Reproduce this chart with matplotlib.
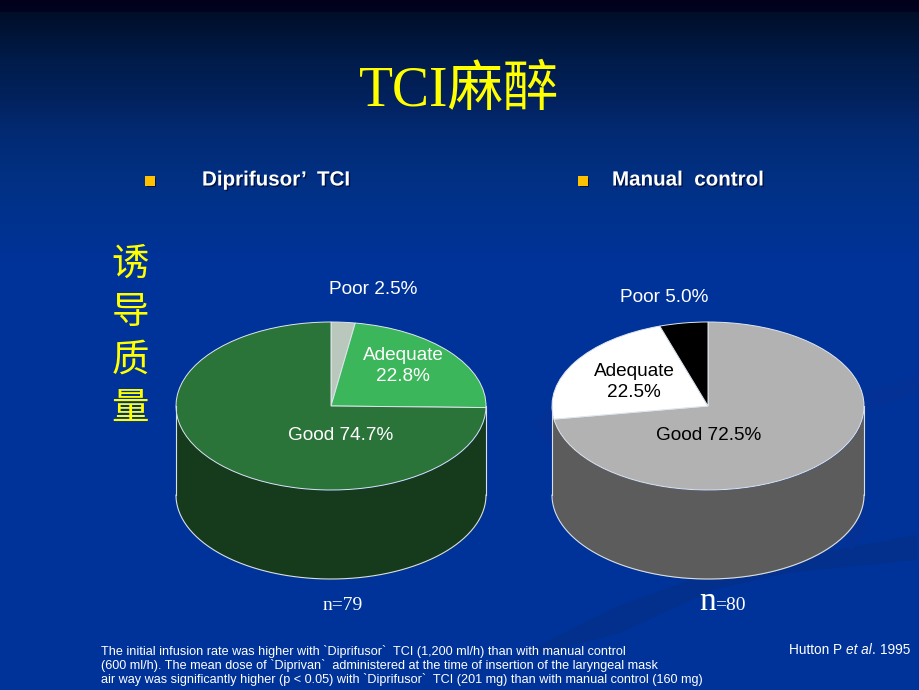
import matplotlib
matplotlib.use('Agg')
import matplotlib.pyplot as plt
import matplotlib.patheffects as pe
import numpy as np

# 数据
labels_left = ['Poor', 'Adequate', 'Good']
values_left = [2.5, 22.8, 74.7]
colors_left = ['#b9c7bc', '#3cb65a', '#2a7339']
side_left = '#153a1c'

labels_right = ['Good', 'Adequate', 'Poor']
values_right = [72.5, 22.5, 5.0]
colors_right = ['#b2b2b2', '#ffffff', '#000000']
side_right = '#5c5c5c'

W, H = 920, 690
fig = plt.figure(figsize=(W / 100, H / 100), dpi=100)

# 背景
bg = fig.add_axes([0, 0, 1, 1])
bg.set_xlim(0, W)
bg.set_ylim(H, 0)
bg.axis('off')
stops_y = [0, 11, 12, 60, 100, 130, 190, 260, 690]
stops_r = [1, 1, 0, 1, 2, 2, 1, 0, 0]
stops_g = [1, 3, 14, 28, 34, 42, 49, 51, 51]
stops_b = [28, 32, 40, 74, 95, 114, 135, 153, 153]
yy = np.arange(H)
grad = np.stack([np.interp(yy, stops_y, stops_r),
                 np.interp(yy, stops_y, stops_g),
                 np.interp(yy, stops_y, stops_b)], axis=1)[:, None, :] / 255
bg.imshow(grad, extent=(0, W, H, 0), aspect='auto', zorder=0)

# 装饰带
bg.fill([500, 620, 713, 787, 917, 917, 787, 713, 620],
        [665, 605, 572, 558, 535, 560, 573, 590, 633],
        color='#03308c', lw=0, zorder=1)
bg.fill([532, 553, 864, 920, 920, 864, 553],
        [423, 403, 392, 375, 392, 412, 450],
        color='#033195', lw=0, zorder=1)
bg.fill([840, 866, 868, 850], [520, 505, 530, 552], color='#033195', lw=0, zorder=1)


def draw_pie(box, values, colors, side, depth_frac):
    # box: 椭圆顶面的像素范围 (x0, y0, x1, y1)
    x0, y0, x1, y1 = box
    h = y1 - y0
    ax = fig.add_axes([x0 / W, 1 - (y1 + depth_frac * h) / H,
                       (x1 - x0) / W, (1 + depth_frac) * h / H])
    ax.patch.set_alpha(0)
    t = np.linspace(np.pi, 2 * np.pi, 200)
    drop = 2 * depth_frac
    ax.fill_between(np.cos(t), np.sin(t), np.sin(t) - drop, color=side, lw=0)
    ax.plot(np.cos(t), np.sin(t) - drop, color='#d8dfe8', lw=0.8, clip_on=False)
    ax.plot([-1, -1], [0, -drop], color='#d8dfe8', lw=0.8, clip_on=False)
    ax.plot([1, 1], [0, -drop], color='#d8dfe8', lw=0.8, clip_on=False)
    ax.pie(values, colors=colors, startangle=90, counterclock=False, radius=1,
           wedgeprops={'edgecolor': '#dfe6ee', 'linewidth': 0.7})
    ax.set_aspect('auto')
    ax.set_xlim(-1, 1)
    ax.set_ylim(-1 - drop, 1)
    ax.axis('off')


draw_pie((176, 322, 486, 490), values_left, colors_left, side_left, 89 / 168)
draw_pie((552, 322, 864, 490), values_right, colors_right, side_right, 89 / 168)

# 文字层
fg = fig.add_axes([0, 0, 1, 1])
fg.set_xlim(0, W)
fg.set_ylim(H, 0)
fg.axis('off')
fg.patch.set_alpha(0)

sans = ['Liberation Sans', 'DejaVu Sans']
serif = ['Liberation Serif', 'Noto Sans CJK SC']

fg.text(459, 92, 'TCI麻醉', color='#ffff00', fontsize=40, family=serif, ha='center', va='center')

shadow = [pe.withSimplePatchShadow(offset=(1, -1), shadow_rgbFace='#00103c', alpha=0.9)]
for bx, tx, s in [(150, 202, 'Diprifusor’  TCI'), (583, 612, 'Manual  control')]:
    fg.scatter([bx], [181], marker='s', s=42, color='#ffc000', lw=0, path_effects=shadow)
    fg.text(tx, 180, s, color='white', fontsize=14.8, fontweight='bold', family=sans,
            ha='left', va='center', path_effects=shadow)
fg.text(195, 175, '‘', color='#1a3a7a', fontsize=8, family=sans, ha='center', va='center')

for y, ch in zip([264, 312, 360, 408], '诱导质量'):
    fg.text(130, y, ch, color='#ffff00', fontsize=27, family=['Noto Sans CJK SC'], ha='center', va='center')

fs = 13.7
fg.text(373, 290, 'Poor 2.5%', color='white', fontsize=fs, family=sans, ha='center', va='center')
fg.text(403, 366, 'Adequate\n22.8%', color='white', fontsize=fs, family=sans, ha='center', va='center', linespacing=1.3)
fg.text(341, 436, 'Good 74.7%', color='white', fontsize=fs, family=sans, ha='center', va='center')
fg.text(664, 298, 'Poor 5.0%', color='white', fontsize=fs, family=sans, ha='center', va='center')
fg.text(634, 382, 'Adequate\n22.5%', color='black', fontsize=fs, family=sans, ha='center', va='center', linespacing=1.3)
fg.text(709, 436, 'Good 72.5%', color='black', fontsize=fs, family=sans, ha='center', va='center')

fg.text(323, 605, 'n=79', color='white', fontsize=14, family=['Liberation Serif'], ha='left', va='center')
fg.text(699, 602, 'n', color='white', fontsize=24, family=['Liberation Serif'], ha='left', va='center')
fg.text(715, 605, '=80', color='white', fontsize=14, family=['Liberation Serif'], ha='left', va='center')

fg.text(789, 650, 'Hutton P', color='white', fontsize=9.8, family=sans, ha='left', va='center')
fg.text(846, 650, 'et al', color='white', fontsize=9.8, style='italic', family=sans, ha='left', va='center')
fg.text(872, 650, '.', color='white', fontsize=9.8, family=sans, ha='left', va='center')
fg.text(880, 650, '1995', color='white', fontsize=9.8, family=sans, ha='left', va='center')

notes = ['The initial infusion rate was higher with `Diprifusor`  TCI (1,200 ml/h) than with manual control',
         '(600 ml/h). The mean dose of `Diprivan`  administered at the time of insertion of the laryngeal mask',
         'air way was significantly higher (p < 0.05) with `Diprifusor`  TCI (201 mg) than with manual control (160 mg)']
for y, s in zip([652, 666, 680], notes):
    fg.text(101, y, s, color='white', fontsize=9.1, family=sans, ha='left', va='center')

fig.savefig('out.png', dpi=100)
